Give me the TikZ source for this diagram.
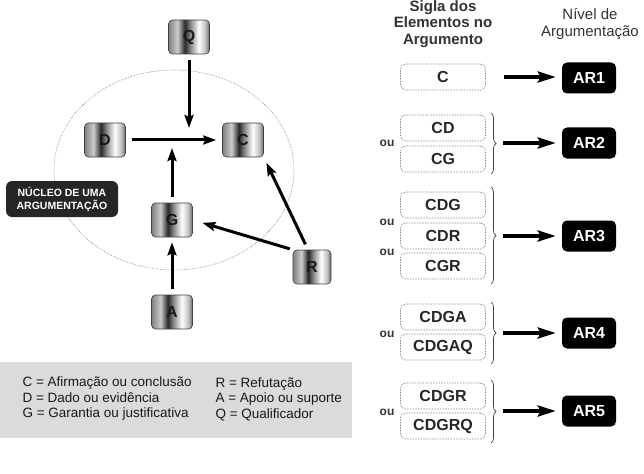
\documentclass[tikz,border=0pt]{standalone}
\usepackage{fontspec}
\setmainfont{Liberation Sans}
\usetikzlibrary{arrows.meta,decorations.pathreplacing,positioning}

% metallic look of the element boxes
\pgfdeclarehorizontalshading{metal}{100bp}{color(0bp)=(black!50); color(25bp)=(black!50); color(36bp)=(black!20); color(45bp)=(black!85); color(52bp)=(black!45); color(62bp)=(white); color(70bp)=(black!25); color(75bp)=(black!60); color(100bp)=(black!60)}

\tikzset{
  elem/.style={draw=black!75, line width=0.6pt, rounded corners=4pt, shading=metal,
               minimum width=41pt, minimum height=34pt, text=black!90,
               font=\bfseries\fontsize{16}{16}\selectfont},
  nucleo/.style={fill=black!85, rounded corners=6pt, minimum width=112pt, minimum height=36pt,
                 align=center, text=white, font=\bfseries\fontsize{10.5}{13}\selectfont},
  arr/.style={-{Stealth[length=13pt,width=9pt,inset=2pt]}, line width=3pt},
  sigla/.style={draw=black!45, dash pattern=on 1.5pt off 1.2pt, line width=0.7pt, rounded corners=5pt,
                minimum width=85pt, minimum height=26pt, text=black!85,
                font=\bfseries\fontsize{16}{16}\selectfont},
  nivel/.style={fill=black, rounded corners=5pt, minimum width=54pt, minimum height=31pt,
                text=white, font=\bfseries\fontsize{16}{16}\selectfont},
  bigarr/.style={-{Stealth[length=18pt,width=11pt,inset=3pt]}, line width=4pt},
  chave/.style={decorate, decoration={brace, amplitude=5pt}, line width=0.7pt, draw=black!75},
  ou/.style={text=black!80, font=\bfseries\fontsize{12}{12}\selectfont},
  legenda/.style={anchor=west, align=left, text=black!90, font=\fontsize{13.5}{15.5}\selectfont},
}

\begin{document}
\begin{tikzpicture}[x=1pt, y=-1pt]
    \useasboundingbox (0,0) rectangle (644,473);

    % nucleus of the argument
    \draw[black!50, densely dotted, line width=0.6pt] (174,170) ellipse [x radius=120pt, y radius=100pt];
    \node[nucleo] (nuc) at (62,199) {NÚCLEO DE UMA\\ARGUMENTAÇÃO};

    % elements
    \node[elem] (q) at (189,37) {Q};
    \node[elem] (d) at (105,140) {D};
    \node[elem] (c) at (243,140) {C};
    \node[elem] (g) at (172,220) {G};
    \node[elem, minimum width=38pt] (r) at (312,267) {R};
    \node[elem] (a) at (172,312) {A};

    % arrows
    \draw[arr, shorten <=6pt, shorten >=6pt] (d) -- (c);
    \draw[arr, shorten <=6pt, shorten >=12pt] (q.south) -- (q |- d);
    \draw[arr, shorten <=6pt, shorten >=8pt] (g.north) -- (g |- d);
    \draw[arr, shorten <=6pt, shorten >=5pt] (a.north) -- (g.south);
    \draw[arr, shorten <=3pt, shorten >=10pt] (r.north west) -- (g.east);
    \draw[arr, shorten <=6pt, shorten >=6pt] ([xshift=-4pt]r.north) -- (c.south east);

    % legend
    \fill[black!14] (0,362) rectangle (352,438);
    \node[legenda] (leg1) at (19,399) {C = Afirmação ou conclusão\\D = Dado ou evidência\\G = Garantia ou justificativa};
    \node[legenda] (leg2) at (212,399) {R = Refutação\\A = Apoio ou suporte\\Q = Qualificador};

    % headers
    \node[align=center, text=black!80, font=\bfseries\fontsize{15}{16.5}\selectfont] (hsig) at (443,24) {Sigla dos\\Elementos no\\Argumento};
    \node[align=center, text=black!80, font=\fontsize{15}{17}\selectfont] (hniv) at (590,24) {Nível de\\Argumentação};

    % AR1
    \node[sigla] (s1) at (443,77) {C};
    \node[nivel] (ar1) at (589,78) {AR1};
    \draw[bigarr, shorten >=6pt] ([xshift=18pt]s1.east) -- (ar1.west |- s1.east);

    % AR2
    \node[sigla] (s2a) at (443,128) {CD};
    \node[sigla] (s2b) at (443,159) {CG};
    \node[ou] (ou2) at (387,143) {ou};
    \draw[chave] (491,113) -- (491,174);
    \coordinate (p2) at (503,143);
    \node[nivel] (ar2) at (589,143) {AR2};
    \draw[bigarr, shorten >=6pt] (p2) -- (ar2.west |- p2);

    % AR3
    \node[sigla] (s3a) at (443,205) {CDG};
    \node[sigla] (s3b) at (443,236) {CDR};
    \node[sigla] (s3c) at (443,266) {CGR};
    \node[ou] (ou3a) at (387,222) {ou};
    \node[ou] (ou3b) at (387,252) {ou};
    \draw[chave] (491,187) -- (491,284);
    \coordinate (p3) at (503,236);
    \node[nivel] (ar3) at (589,236) {AR3};
    \draw[bigarr, shorten >=6pt] (p3) -- (ar3.west |- p3);

    % AR4
    \node[sigla] (s4a) at (443,317) {CDGA};
    \node[sigla] (s4b) at (443,347) {CDGAQ};
    \node[ou] (ou4) at (387,334) {ou};
    \draw[chave] (491,302) -- (491,364);
    \coordinate (p4) at (503,333);
    \node[nivel] (ar4) at (589,333) {AR4};
    \draw[bigarr, shorten >=6pt] (p4) -- (ar4.west |- p4);

    % AR5
    \node[sigla] (s5a) at (443,396) {CDGR};
    \node[sigla] (s5b) at (443,426) {CDGRQ};
    \node[ou] (ou5) at (387,412) {ou};
    \draw[chave] (491,380) -- (491,443);
    \coordinate (p5) at (503,411);
    \node[nivel] (ar5) at (589,411) {AR5};
    \draw[bigarr, shorten >=6pt] (p5) -- (ar5.west |- p5);

\end{tikzpicture}
\end{document}
